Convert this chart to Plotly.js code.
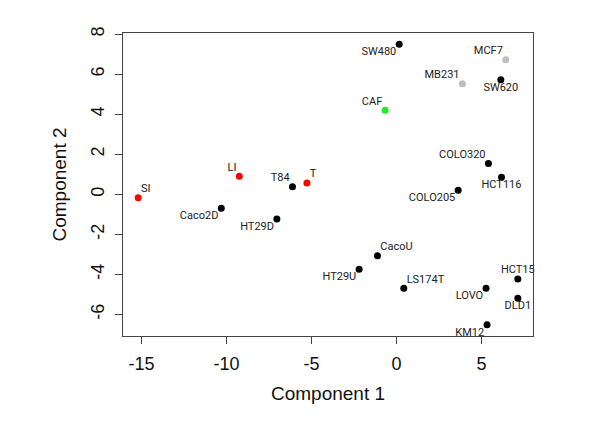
<!DOCTYPE html>
<html>
<head>
<meta charset="utf-8">
<script src="https://cdn.plot.ly/plotly-3.0.1.min.js"></script>
<style>
  body { margin: 0; background: #fff; }
  #plot { width: 600px; height: 424px; }
</style>
</head>
<body>
<div id="plot"></div>
<script>
// samples on the first two components
var samples = ['SW480', 'MCF7', 'MB231', 'SW620', 'CAF', 'COLO320', 'HCT116', 'COLO205',
    'LI', 'T84', 'T', 'SI', 'Caco2D', 'HT29D', 'CacoU', 'HT29U', 'LS174T', 'LOVO',
    'HCT15', 'DLD1', 'KM12'];
var comp1 = [0.16, 6.43, 3.88, 6.14, -0.67, 5.41, 6.18, 3.63,
    -9.25, -6.12, -5.27, -15.2, -10.31, -7.04, -1.12, -2.20, 0.43, 5.27,
    7.14, 7.14, 5.33];
var comp2 = [7.50, 6.72, 5.52, 5.72, 4.20, 1.54, 0.85, 0.20,
    0.90, 0.38, 0.56, -0.17, -0.70, -1.24, -3.07, -3.75, -4.69, -4.69,
    -4.23, -5.19, -6.52];
var group = ['line', 'breast', 'breast', 'line', 'fibro', 'line', 'line', 'line',
    'tissue', 'line', 'tissue', 'tissue', 'line', 'line', 'line', 'line', 'line', 'line',
    'line', 'line', 'line'];

// axis ticks (plain hyphens like the original)
var xTicks = [-15, -10, -5, 0, 5];
var xTickText = ['-15', '-10', '-5', '0', '5'];
var yTicks = [-6, -4, -2, 0, 2, 4, 6, 8];
var yTickText = ['-6', '-4', '-2', '0', '2', '4', '6', '8'];

// look
var groupColor = {line: '#000000', breast: '#bebebe', fibro: '#22ee22', tissue: '#ff0000'};
var labelPos = ['bottom left', 'top left', 'top left', 'bottom center', 'top left', 'top left',
    'bottom center', 'bottom left', 'top left', 'top left', 'top right', 'top right',
    'bottom left', 'bottom left', 'top right', 'bottom left', 'top right', 'bottom left',
    'top center', 'bottom center', 'bottom left'];

function padRange(v) {
    var lo = Math.min.apply(null, v), hi = Math.max.apply(null, v);
    var pad = (hi - lo) * 0.04;
    return [lo - pad, hi + pad];
}

var dots = {
    x: comp1,
    y: comp2,
    text: samples,
    mode: 'markers',
    type: 'scatter',
    marker: {size: 7, color: group.map(function (g) { return groupColor[g]; })},
    hoverinfo: 'text',
    cliponaxis: false
};

// labels hug the dots, so they get their own trace with tiny invisible markers
var labels = {
    x: comp1,
    y: comp2,
    text: samples,
    mode: 'markers+text',
    type: 'scatter',
    textposition: labelPos,
    textfont: {family: 'Roboto, sans-serif', size: 11, color: '#222'},
    marker: {size: 3, opacity: 0},
    hoverinfo: 'skip',
    cliponaxis: false
};

var axisStyle = {
    showgrid: false,
    zeroline: false,
    showline: true,
    mirror: true,
    linecolor: '#444',
    linewidth: 1,
    ticks: 'outside',
    ticklen: 7,
    tickcolor: '#444',
    tickmode: 'array',
    tickfont: {family: 'Liberation Sans, Arial, sans-serif', size: 18, color: '#111'}
};

var titleFont = {family: 'Liberation Sans, Arial, sans-serif', size: 19, color: '#111'};

var layout = {
    width: 600,
    height: 424,
    showlegend: false,
    paper_bgcolor: '#fff',
    plot_bgcolor: '#fff',
    margin: {l: 123, r: 67, t: 33, b: 88},
    xaxis: Object.assign({}, axisStyle, {
        range: padRange(comp1),
        tickvals: xTicks,
        ticktext: xTickText,
        ticklabelstandoff: 4,
        title: {text: 'Component 1', standoff: 14, font: titleFont}
    }),
    yaxis: Object.assign({}, axisStyle, {
        range: padRange(comp2),
        tickvals: yTicks,
        ticktext: yTickText,
        tickangle: -90,
        ticklabelstandoff: 4,
        title: {text: 'Component 2', standoff: 16, font: titleFont}
    })
};

Plotly.newPlot('plot', [dots, labels], layout, {staticPlot: true});
</script>
</body>
</html>
